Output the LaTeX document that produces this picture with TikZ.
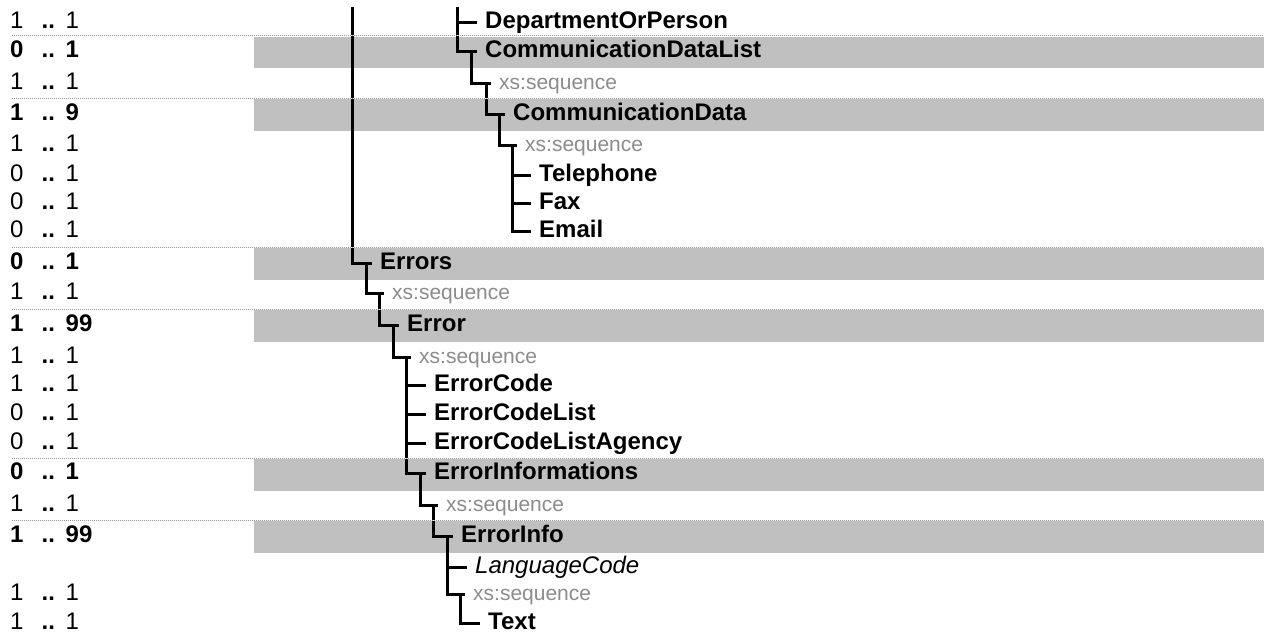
\documentclass[tikz,border=0pt]{standalone}
\usepackage{fontspec}
\setmainfont{Liberation Sans}
\definecolor{bandgray}{RGB}{192,192,192}
\definecolor{seqgray}{RGB}{140,140,140}
\definecolor{dotgray}{RGB}{150,150,150}
\newcommand\cntrow[2]{\makebox[31.5pt][l]{#1}\makebox[24pt][l]{\bfseries..}#2}
\begin{document}
\begin{tikzpicture}[x=1pt,y=-1pt,
  every node/.style={inner sep=0pt, anchor=west, text height=16pt, text depth=4pt},
  elem/.style={font=\fontsize{24}{27}\selectfont\bfseries},
  attr/.style={font=\fontsize{24}{27}\selectfont\itshape},
  seq/.style={font=\fontsize{21}{24}\selectfont, text=seqgray},
  cnt/.style={font=\fontsize{24}{27}\selectfont},
  cntb/.style={font=\fontsize{24}{27}\selectfont\bfseries},
  conn/.style={line width=3pt},
  rowsep/.style={dotgray, line width=1pt, dash pattern=on 1pt off 1pt},
  rowsepbg/.style={white, line width=1pt}]

\useasboundingbox[fill=white] (0,0) rectangle (1264,637);

% grey bands
\foreach \ya/\yb in {36.5/68, 99/130.5, 248/279.5, 310/341.5, 459/490.5, 521/552.5}
  \fill[bandgray] (254,\ya) rectangle (1264,\yb);

% cardinalities
\node[cnt]  (c1)  at (10,22)   {\cntrow{1}{1}};
\node[cntb] (c2)  at (10,51)   {\cntrow{0}{1}};
\node[cnt]  (c3)  at (10,83)   {\cntrow{1}{1}};
\node[cntb] (c4)  at (10,114.5){\cntrow{1}{9}};
\node[cnt]  (c5)  at (10,145)  {\cntrow{1}{1}};
\node[cnt]  (c6)  at (10,175)  {\cntrow{0}{1}};
\node[cnt]  (c7)  at (10,203)  {\cntrow{0}{1}};
\node[cnt]  (c8)  at (10,231)  {\cntrow{0}{1}};
\node[cntb] (c9)  at (10,263)  {\cntrow{0}{1}};
\node[cnt]  (c10) at (10,293)  {\cntrow{1}{1}};
\node[cntb] (c11) at (10,325)  {\cntrow{1}{99}};
\node[cnt]  (c12) at (10,357)  {\cntrow{1}{1}};
\node[cnt]  (c13) at (10,385)  {\cntrow{1}{1}};
\node[cnt]  (c14) at (10,414)  {\cntrow{0}{1}};
\node[cnt]  (c15) at (10,443)  {\cntrow{0}{1}};
\node[cntb] (c16) at (10,473)  {\cntrow{0}{1}};
\node[cnt]  (c17) at (10,505)  {\cntrow{1}{1}};
\node[cntb] (c18) at (10,536)  {\cntrow{1}{99}};
\node[cnt]  (c20) at (10,594)  {\cntrow{1}{1}};
\node[cnt]  (c21) at (10,623)  {\cntrow{1}{1}};

% upper subtree
\node[elem] (dep)   at (485,22)    {DepartmentOrPerson};
\node[elem] (cdl)   at (485,51)    {CommunicationDataList};
\node[seq]  (seq1)  at (499,83)    {xs:sequence};
\node[elem] (cd)    at (513,114.5) {CommunicationData};
\node[seq]  (seq2)  at (525,145)   {xs:sequence};
\node[elem] (tel)   at (539,175)   {Telephone};
\node[elem] (fax)   at (539,203)   {Fax};
\node[elem] (email) at (539,231)   {Email};

% lower subtree
\node[elem] (errs)  at (380,263) {Errors};
\node[seq]  (seq3)  at (392,293) {xs:sequence};
\node[elem] (err)   at (407,325) {Error};
\node[seq]  (seq4)  at (419,357) {xs:sequence};
\node[elem] (ec)    at (434,385) {ErrorCode};
\node[elem] (ecl)   at (434,414) {ErrorCodeList};
\node[elem] (ecla)  at (434,443) {ErrorCodeListAgency};
\node[elem] (einfs) at (434,473) {ErrorInformations};
\node[seq]  (seq5)  at (446,505) {xs:sequence};
\node[elem] (einf)  at (461,536) {ErrorInfo};
\node[attr] (lang)  at (475,567) {LanguageCode};
\node[seq]  (seq6)  at (473,594) {xs:sequence};
\node[elem] (txt)   at (488,623) {Text};

% stubs
\coordinate (rootA) at (352,7);
\coordinate (rootB) at (457,7);
\foreach \n in {cdl,cd,errs,err,einfs,einf}
  \coordinate (\n S) at ([xshift=-14pt]\n.west);
\foreach \n in {seq1,seq2,seq3,seq4,seq5,seq6}
  \coordinate (\n S) at ([xshift=-13pt]\n.west);

% connectors
\draw[conn] (rootB) |- ([xshift=-8pt]dep.west);
\draw[conn] (rootB) |- ([xshift=-8pt]cdl.west);
\draw[conn] (cdlS) |- ([xshift=-8pt]seq1.west);
\draw[conn] (seq1S) |- ([xshift=-8pt]cd.west);
\draw[conn] (cdS) |- ([xshift=-8pt]seq2.west);
\foreach \n in {tel,fax,email}
  \draw[conn] (seq2S) |- ([xshift=-8pt]\n.west);

\draw[conn] (rootA) |- ([xshift=-8pt]errs.west);
\draw[conn] (errsS) |- ([xshift=-8pt]seq3.west);
\draw[conn] (seq3S) |- ([xshift=-8pt]err.west);
\draw[conn] (errS) |- ([xshift=-8pt]seq4.west);
\foreach \n in {ec,ecl,ecla,einfs}
  \draw[conn] (seq4S) |- ([xshift=-8pt]\n.west);
\draw[conn] (einfsS) |- ([xshift=-8pt]seq5.west);
\draw[conn] (seq5S) |- ([xshift=-8pt]einf.west);
\draw[conn] (einfS) |- ([xshift=-8pt]lang.west);
\draw[conn] (einfS) |- ([xshift=-8pt]seq6.west);
\draw[conn] (seq6S) |- ([xshift=-8pt]txt.west);

% row separators
\foreach \y in {35.5, 98, 247, 309, 458, 520} {
  \draw[rowsepbg] (12,\y) -- (1264,\y);
  \draw[rowsep] (12,\y) -- (1264,\y);
}
\end{tikzpicture}
\end{document}
